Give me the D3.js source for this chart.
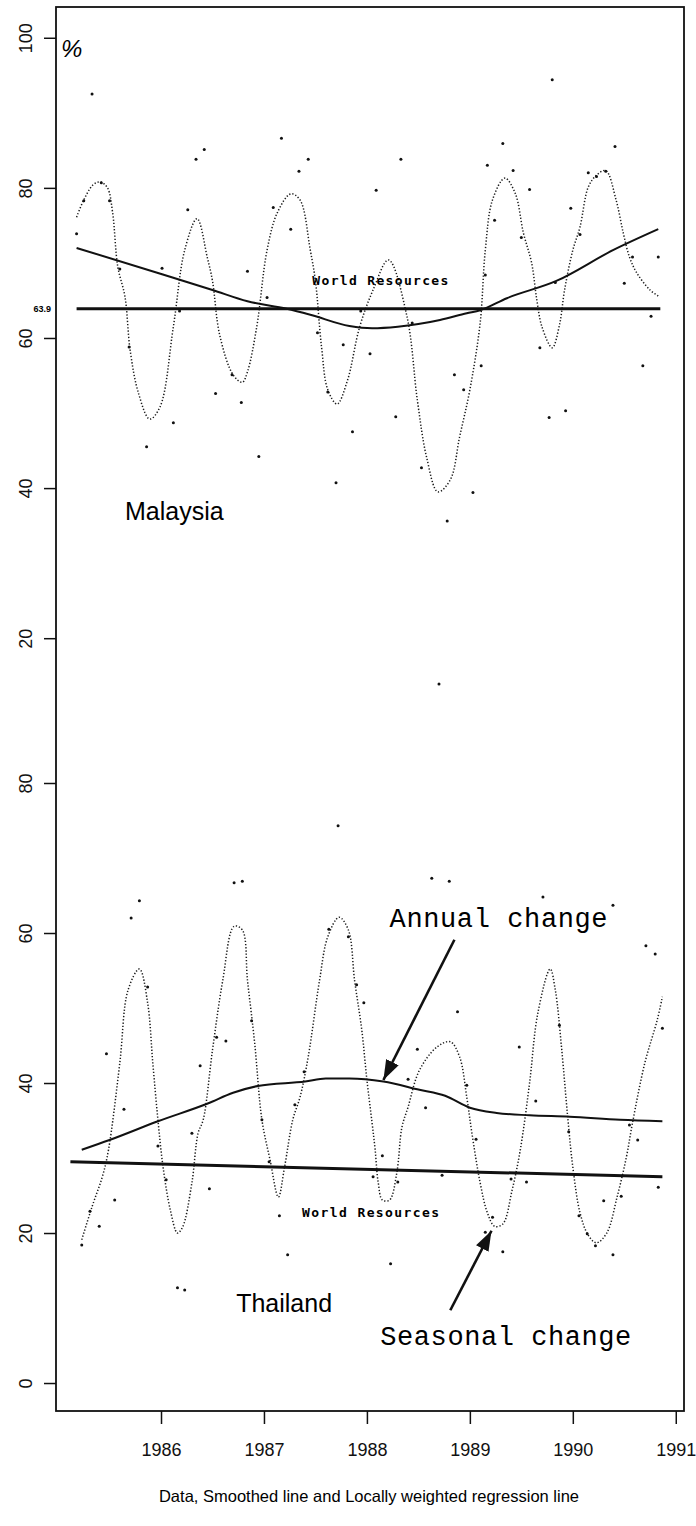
<!DOCTYPE html>
<meta charset="utf-8">
<html>
<style>
  body { margin: 0; background: #fff; }
  svg { display: block; font-family: "Liberation Sans", Arial, sans-serif; }
  .frame { fill: none; stroke: #111; stroke-width: 1.8px; }
  .axis line { stroke: #111; stroke-width: 1.5px; }
  .axis text { font-size: 18px; fill: #111; }
  .trend { fill: none; stroke: #111; stroke-width: 2px; }
  .smooth { fill: none; stroke: #1a1a1a; stroke-width: 1.5px; stroke-dasharray: 1.3 1.9; }
  .world { fill: none; stroke: #111; stroke-width: 3px; }
  .pt { fill: #111; }
  .wr-text { font-family: "DejaVu Sans Mono", monospace; font-weight: bold; font-size: 13px; }
  .country { font-size: 25px; }
  .note { font-family: "Liberation Mono", "Courier New", monospace; font-size: 27px; }
</style>
<body>
<svg width="696" height="1526"></svg>

<script src="https://cdnjs.cloudflare.com/ajax/libs/d3/7.8.5/d3.min.js"></script>
<script>

// ---- data (decimal year, percent) ----
var years = [1986, 1987, 1988, 1989, 1990, 1991];
var topTicks = [20, 40, 60, 80, 100];
var bottomTicks = [0, 20, 40, 60, 80];

var malaysiaData = [
  [1985.18,73.9],[1985.25,78.3],[1985.33,92.5],[1985.42,80.7],[1985.50,78.3],[1985.60,69.2],
  [1985.69,58.8],[1985.86,45.5],[1986.01,69.3],[1986.12,48.7],[1986.18,63.6],[1986.26,77.1],
  [1986.34,83.8],[1986.42,85.1],[1986.53,52.6],[1986.69,55.1],[1986.78,51.4],[1986.84,68.9],
  [1986.95,44.2],[1987.03,65.4],[1987.09,77.4],[1987.17,86.6],[1987.26,74.5],[1987.34,82.2],
  [1987.43,83.8],[1987.52,60.7],[1987.62,52.8],[1987.70,40.7],[1987.77,59.1],[1987.86,47.5],
  [1987.94,63.6],[1988.03,57.9],[1988.09,79.7],[1988.28,49.5],[1988.33,83.8],[1988.44,62.0],
  [1988.53,42.7],[1988.70,13.9],[1988.78,35.6],[1988.85,55.1],[1988.94,53.1],[1989.03,39.4],
  [1989.11,56.3],[1989.15,68.4],[1989.17,83.0],[1989.24,75.7],[1989.32,85.9],[1989.42,82.3],
  [1989.50,73.4],[1989.58,79.8],[1989.68,58.7],[1989.77,49.4],[1989.80,94.4],[1989.83,67.4],
  [1989.93,50.3],[1989.98,77.3],[1990.07,73.8],[1990.15,82.0],[1990.23,81.5],[1990.32,82.2],
  [1990.41,85.5],[1990.50,67.3],[1990.58,70.8],[1990.68,56.3],[1990.76,62.9],[1990.83,70.8]
];

var malaysiaSmooth = [
  [1985.18,76.1],[1985.25,78.4],[1985.34,80.4],[1985.41,80.8],[1985.48,80.0],[1985.53,76.7],
  [1985.58,69.5],[1985.65,65.5],[1985.70,58.4],[1985.78,52.7],[1985.89,49.2],[1985.99,50.8],
  [1986.12,61.5],[1986.23,71.7],[1986.35,75.9],[1986.45,70.7],[1986.50,67.6],[1986.57,60.4],
  [1986.70,55.1],[1986.79,54.1],[1986.84,55.5],[1986.93,61.5],[1987.03,71.7],[1987.13,76.7],
  [1987.26,79.2],[1987.35,78.4],[1987.45,71.7],[1987.50,67.6],[1987.56,58.7],[1987.62,53.1],
  [1987.71,51.2],[1987.81,54.3],[1987.93,61.5],[1988.06,66.4],[1988.21,70.4],[1988.39,62.8],
  [1988.49,51.7],[1988.58,44.1],[1988.69,39.5],[1988.81,41.1],[1988.90,46.8],[1989.00,53.1],
  [1989.10,62.0],[1989.15,71.7],[1989.22,78.4],[1989.34,81.3],[1989.44,79.3],[1989.52,74.0],
  [1989.60,70.0],[1989.65,65.1],[1989.70,61.5],[1989.80,58.7],[1989.87,61.7],[1989.92,66.4],
  [1990.00,71.7],[1990.07,74.8],[1990.15,80.1],[1990.23,81.7],[1990.32,82.3],[1990.42,78.4],
  [1990.49,74.0],[1990.55,70.8],[1990.62,68.7],[1990.75,66.4],[1990.83,65.6]
];

var malaysiaTrend = [
  [1985.18,72.0],[1986.01,68.5],[1986.50,66.4],[1986.84,64.9],[1987.22,63.9],[1987.45,63.1],
  [1987.83,61.6],[1988.05,61.3],[1988.30,61.5],[1988.71,62.4],[1988.97,63.3],
  [1989.10,63.7],[1989.36,65.3],[1989.84,67.6],[1990.39,71.7],[1990.83,74.5]
];

var malaysiaWorld = [[1985.18,63.9],[1990.85,63.9]];

var thailandData = [
  [1985.23,18.4],[1985.31,22.9],[1985.40,20.9],[1985.47,43.9],[1985.55,24.4],[1985.64,36.5],
  [1985.71,62.0],[1985.79,64.3],[1985.87,52.8],[1985.97,31.6],[1986.05,27.1],[1986.16,12.7],
  [1986.23,12.4],[1986.30,33.3],[1986.38,42.3],[1986.47,25.9],[1986.54,46.1],[1986.63,45.6],
  [1986.71,66.7],[1986.79,66.9],[1986.88,48.3],[1986.98,35.1],[1987.05,29.5],[1987.15,22.3],
  [1987.23,17.1],[1987.30,37.1],[1987.39,41.5],[1987.63,60.5],[1987.72,74.3],[1987.82,59.5],
  [1987.90,53.1],[1987.97,50.7],[1988.06,27.5],[1988.15,30.3],[1988.23,15.9],[1988.30,26.8],
  [1988.40,40.5],[1988.49,44.5],[1988.57,36.7],[1988.63,67.3],[1988.73,27.7],[1988.80,66.9],
  [1988.88,49.5],[1988.97,39.7],[1989.06,32.5],[1989.15,20.1],[1989.22,22.1],[1989.32,17.5],
  [1989.40,27.2],[1989.48,44.8],[1989.55,26.8],[1989.64,37.6],[1989.71,64.8],[1989.87,47.7],
  [1989.96,33.5],[1990.06,22.3],[1990.14,19.9],[1990.22,18.3],[1990.30,24.3],[1990.39,63.7],
  [1990.39,17.1],[1990.47,24.9],[1990.55,34.4],[1990.63,32.4],[1990.71,58.3],[1990.80,57.2],
  [1990.83,26.1],[1990.87,47.3]
];

var thailandSmooth = [
  [1985.23,19.1],[1985.33,23.5],[1985.43,27.5],[1985.49,31.1],[1985.60,42.7],[1985.68,52.4],
  [1985.79,55.2],[1985.87,50.7],[1985.92,42.7],[1985.97,35.1],[1986.02,28.8],[1986.09,23.1],
  [1986.16,20.0],[1986.21,20.8],[1986.30,26.7],[1986.36,33.3],[1986.41,35.1],[1986.50,44.4],
  [1986.60,53.7],[1986.71,60.9],[1986.79,60.4],[1986.84,53.7],[1986.91,45.3],[1986.98,35.1],
  [1987.06,29.7],[1987.14,24.8],[1987.20,28.8],[1987.28,35.1],[1987.35,38.1],[1987.43,43.5],
  [1987.54,53.7],[1987.62,59.5],[1987.73,62.1],[1987.82,60.4],[1987.88,53.7],[1987.95,47.1],
  [1988.00,40.4],[1988.05,34.7],[1988.08,31.1],[1988.11,26.7],[1988.15,24.4],[1988.22,24.4],
  [1988.29,28.0],[1988.34,34.1],[1988.40,36.8],[1988.51,41.7],[1988.68,44.8],[1988.81,45.5],
  [1988.90,43.5],[1988.97,38.1],[1989.02,33.3],[1989.10,26.7],[1989.17,22.7],[1989.24,20.9],
  [1989.32,21.2],[1989.41,25.7],[1989.49,31.1],[1989.58,40.0],[1989.66,49.3],[1989.78,55.2],
  [1989.83,52.4],[1989.89,44.8],[1989.95,35.5],[1990.00,28.8],[1990.07,22.7],[1990.15,19.7],
  [1990.23,18.7],[1990.33,20.0],[1990.43,24.8],[1990.52,30.1],[1990.58,34.7],[1990.70,42.7],
  [1990.82,48.4],[1990.87,51.5]
];

var thailandTrend = [
  [1985.23,31.1],[1985.50,32.4],[1985.97,34.9],[1986.46,37.3],[1986.70,38.7],[1986.94,39.6],
  [1987.40,40.2],[1987.60,40.6],[1987.83,40.6],[1988.16,40.2],[1988.51,39.1],[1988.76,38.3],
  [1989.00,36.7],[1989.26,36.0],[1989.58,35.7],[1989.97,35.5],[1990.46,35.1],[1990.87,34.9]
];

var thailandWorld = [[1985.12,29.5],[1990.87,27.5]];

// ---- layout ----
var svg = d3.select("svg");
var frameLeft = 56, frameRight = 684, frameTop = 7, frameMid = 705, frameBottom = 1411;

var x = d3.scaleLinear().domain([1984.98, 1991.08]).range([frameLeft, frameRight]);
var yTop = d3.scaleLinear().domain([11.1, 104.1]).range([frameMid, frameTop]);
var yBot = d3.scaleLinear().domain([-3.73, 90.4]).range([frameBottom, frameMid]);

svg.append("defs").append("marker")
    .attr("id", "head")
    .attr("markerUnits", "userSpaceOnUse")
    .attr("markerWidth", 22).attr("markerHeight", 14)
    .attr("refX", 20).attr("refY", 7)
    .attr("orient", "auto")
  .append("path")
    .attr("d", "M0,0 L20,7 L0,14 Z")
    .attr("fill", "#111");

function drawPanel(y, data, smooth, trend, world) {
  var g = svg.append("g");
  var line = d3.line().x(function(d) { return x(d[0]); }).y(function(d) { return y(d[1]); });

  g.append("path").datum(smooth).attr("class", "smooth")
      .attr("d", line.curve(d3.curveCatmullRom.alpha(0.5)));
  g.append("path").datum(trend).attr("class", "trend")
      .attr("d", line.curve(d3.curveMonotoneX));
  g.append("path").datum(world).attr("class", "world")
      .attr("d", line.curve(d3.curveLinear));

  g.selectAll("circle").data(data).enter().append("circle")
      .attr("class", "pt")
      .attr("cx", function(d) { return x(d[0]); })
      .attr("cy", function(d) { return y(d[1]); })
      .attr("r", 1.5);
  return g;
}

drawPanel(yTop, malaysiaData, malaysiaSmooth, malaysiaTrend, malaysiaWorld);
drawPanel(yBot, thailandData, thailandSmooth, thailandTrend, thailandWorld);

// frame
svg.append("rect").attr("class", "frame")
    .attr("x", frameLeft).attr("y", frameTop)
    .attr("width", frameRight - frameLeft).attr("height", frameBottom - frameTop);

// y axes with rotated labels
function yAxis(scale, ticks) {
  var g = svg.append("g").attr("class", "axis")
      .attr("transform", "translate(" + frameLeft + ",0)")
      .call(d3.axisLeft(scale).tickValues(ticks).tickSize(12).tickFormat(d3.format("d")));
  g.select(".domain").remove();
  g.selectAll("text")
      .attr("x", 0).attr("dy", "0.36em")
      .attr("text-anchor", "middle")
      .attr("transform", "translate(-30,0) rotate(-90)");
}
yAxis(yTop, topTicks);
yAxis(yBot, bottomTicks);

// x axis
var xg = svg.append("g").attr("class", "axis")
    .attr("transform", "translate(0," + frameBottom + ")")
    .call(d3.axisBottom(x).tickValues(years).tickSize(13).tickPadding(19).tickFormat(d3.format("d")));
xg.select(".domain").remove();

// labels
svg.append("text").attr("x", frameLeft + 5).attr("y", yTop(97.5))
    .attr("font-size", 24).attr("font-style", "italic").text("%");

svg.append("text").attr("x", frameLeft - 5).attr("y", yTop(63.9) + 3.5)
    .attr("text-anchor", "end").attr("font-size", 9).attr("font-weight", "bold")
    .text("63.9");

svg.append("text").attr("class", "wr-text")
    .attr("x", x(1987.47)).attr("y", yTop(67.1))
    .attr("textLength", 136).attr("lengthAdjust", "spacing")
    .text("World Resources");
svg.append("text").attr("class", "wr-text")
    .attr("x", x(1987.37)).attr("y", yBot(22.1))
    .attr("textLength", 137).attr("lengthAdjust", "spacing")
    .text("World Resources");

svg.append("text").attr("class", "country")
    .attr("x", x(1985.65)).attr("y", yTop(35.7)).text("Malaysia");
svg.append("text").attr("class", "country")
    .attr("x", x(1986.73)).attr("y", yBot(9.5)).text("Thailand");

svg.append("text").attr("class", "note")
    .attr("x", x(1988.22)).attr("y", yBot(60.8))
    .attr("textLength", 218).attr("lengthAdjust", "spacing")
    .text("Annual change");
svg.append("text").attr("class", "note")
    .attr("x", x(1988.13)).attr("y", yBot(5.1))
    .attr("textLength", 251).attr("lengthAdjust", "spacing")
    .text("Seasonal change");

// arrows
var arrows = [
  { from: [1988.85, 59.1], to: [1988.16, 40.4] },
  { from: [1988.81, 9.7], to: [1989.21, 20.3] }
];
svg.selectAll(".arrow").data(arrows).enter().append("line")
    .attr("class", "arrow")
    .attr("x1", function(d) { return x(d.from[0]); })
    .attr("y1", function(d) { return yBot(d.from[1]); })
    .attr("x2", function(d) { return x(d.to[0]); })
    .attr("y2", function(d) { return yBot(d.to[1]); })
    .attr("stroke", "#111").attr("stroke-width", 2.6)
    .attr("marker-end", "url(#head)");

// caption
svg.append("text").attr("x", 369).attr("y", 1502)
    .attr("text-anchor", "middle").attr("font-size", 16.5)
    .text("Data, Smoothed line and Locally weighted regression line");

</script>
</body>
</html>
